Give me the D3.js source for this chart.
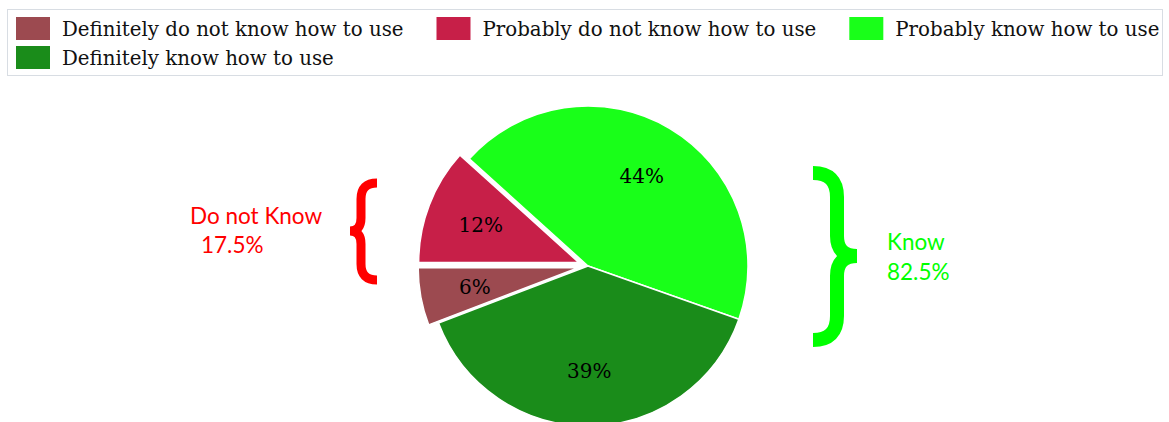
<!DOCTYPE html>
<html><head><meta charset="utf-8">
<script src="https://cdn.jsdelivr.net/npm/d3@7"></script>
<style>html,body{margin:0;padding:0;background:#fff;}svg{display:block;}</style>
</head><body>
<svg id="chart" width="1169" height="422"></svg>
<script>
const categories = ["Definitely do not know how to use","Probably do not know how to use","Probably know how to use","Definitely know how to use"];
const values = [5.8, 11.7, 43.7, 38.8];
const sliceLabels = ["6%","12%","44%","39%"];
const colors = ["#9c4a50","#c71f48","#19ff19","#1a8c1a"];
const exploded = [true, true, false, false];
const groupLabels = [["Do not Know","17.5%"],["Know","82.5%"]];

const svg = d3.select("#chart");
const W = 1169, H = 422;

// Legend
const legend = svg.append("g");
legend.append("rect").attr("x",7.5).attr("y",9.5).attr("width",1155).attr("height",66)
  .attr("fill","#fff").attr("stroke","#d8dde3").attr("stroke-width",1);
const swW = 34, swH = 23, gap = 12, spacing = 33, rowH = 29, left = 16, maxX = 1164;
let lx = left, row = 0;
categories.forEach((c,i)=>{
  const g = legend.append("g");
  const t = g.append("text").attr("font-family","DejaVu Serif").attr("font-size",19.8)
    .attr("fill","#111").text(c);
  const tw = t.node().getComputedTextLength();
  if (lx + swW + gap + tw > maxX) { lx = left; row++; }
  const y0 = 17 + row*rowH;
  g.insert("rect","text").attr("x",lx).attr("y",y0).attr("width",swW).attr("height",swH).attr("fill",colors[i]);
  t.attr("x",lx+swW+gap).attr("y",y0+19);
  lx += swW + gap + tw + spacing;
});

// Pie
const cx = 588, cy = 266, R = 160, explode = 10;
const total = d3.sum(values);
const start = -Math.PI/2 - values[0]/total*2*Math.PI;
const pie = d3.pie().sort(null).value(d=>d).startAngle(start).endAngle(start+2*Math.PI);
const arcs = pie(values);
const arc = d3.arc().innerRadius(0).outerRadius(R);
const labelArc = d3.arc().innerRadius(105).outerRadius(105);
const pg = svg.append("g").attr("transform",`translate(${cx},${cy})`);
arcs.forEach((a,i)=>{
  const mid = (a.startAngle+a.endAngle)/2;
  const off = exploded[i] ? explode : 0;
  const dx = Math.sin(mid)*off, dy = -Math.cos(mid)*off;
  const g = pg.append("g").attr("transform",`translate(${dx},${dy})`);
  g.append("path").attr("d",arc(a)).attr("fill",colors[i]).attr("stroke","#fff").attr("stroke-width",1.5).attr("stroke-linejoin","round");
  const [lxp,lyp] = labelArc.centroid(a);
  g.append("text").attr("x",lxp).attr("y",lyp).attr("dy","0.35em").attr("text-anchor","middle")
    .attr("font-family","DejaVu Serif").attr("font-size",20).attr("fill","#000").text(sliceLabels[i]);
});

// Braces
svg.append("path")
  .attr("d","M377,183 Q361,183 361,199 L361,218 Q361,231 350,231 Q361,231 361,244 L361,264 Q361,280 377,280")
  .attr("fill","none").attr("stroke","#ff0000").attr("stroke-width",9).attr("stroke-linejoin","miter");
svg.append("path")
  .attr("d","M813,173 Q837,173 837,197 L837,236 Q837,256 857,256 Q837,256 837,276 L837,316 Q837,340 813,340")
  .attr("fill","none").attr("stroke","#00ff00").attr("stroke-width",14).attr("stroke-linejoin","miter");

// Group labels
const gl = svg.append("g").attr("font-family","Lato").attr("font-size",22.5);
gl.append("text").attr("x",190).attr("y",224).attr("fill","#ff0000").text(groupLabels[0][0]);
gl.append("text").attr("x",201).attr("y",253).attr("fill","#ff0000").text(groupLabels[0][1]);
gl.append("text").attr("x",887).attr("y",250).attr("fill","#00ff00").text(groupLabels[1][0]);
gl.append("text").attr("x",887).attr("y",280).attr("fill","#00ff00").text(groupLabels[1][1]);
</script>
</body></html>
